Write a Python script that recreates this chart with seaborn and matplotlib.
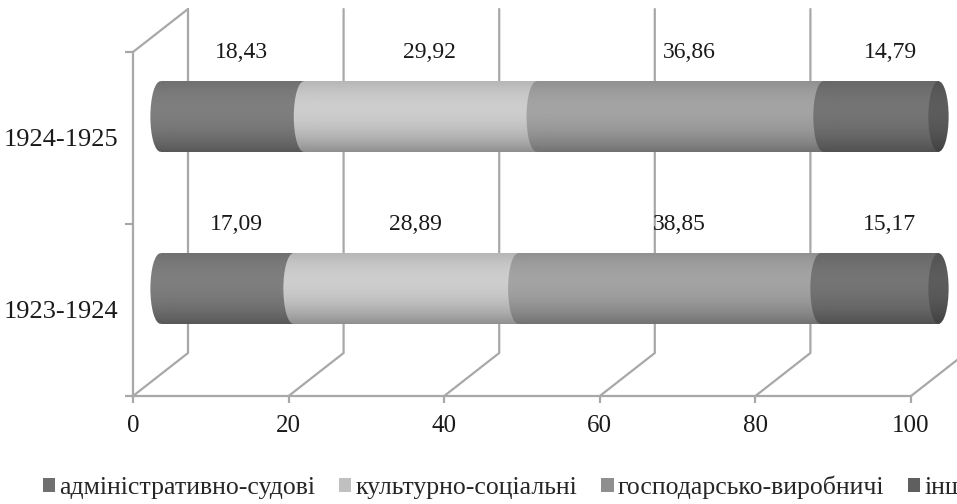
import numpy as np
import pandas as pd
import matplotlib
matplotlib.use("Agg")
import matplotlib.pyplot as plt
import matplotlib.transforms as mtransforms
from matplotlib.patches import Ellipse, Patch
from matplotlib.lines import Line2D
import seaborn as sns

# данні
years = ["1924-1925", "1923-1924"]
categories = ["адміністративно-судові", "культурно-соціальні",
              "господарсько-виробничі", "інші"]
adm = [18.43, 17.09]
cult = [29.92, 28.89]
gosp = [36.86, 38.85]
inshi = [14.79, 15.17]
x_ticks = [0, 20, 40, 60, 80, 100]

colors = ["#7e7e7e", "#cdcdcd", "#a3a3a3", "#747474"]
legend_colors = ["#707070", "#c0c0c0", "#8f8f8f", "#5f5f5f"]
cap_color = "#5c5c5c"
grid_color = "#a8a8a8"

sns.set_style("white")
plt.rcParams["font.family"] = ["Liberation Serif", "DejaVu Serif"]

fig = plt.figure(figsize=(9.57, 5.04), dpi=100)
ax = fig.add_axes([133 / 957, 108 / 504, 778 / 957, 344 / 504])
ax.patch.set_visible(False)

segs = np.array([adm, cult, gosp, inshi])
cum = segs.cumsum(axis=0)
starts = cum - segs
bar_h = 0.41

# зсув "глибини" для 3D-вигляду (пікселі при dpi=100)
mid_off = mtransforms.ScaledTranslation(0.275, 0.215, fig.dpi_scale_trans)
back_dx, back_dy = 55, 43

# накладені стовпчики (від повної суми до першої категорії)
for k in reversed(range(4)):
    df = pd.DataFrame({"year": years, "value": cum[k]})
    sns.barplot(data=df, x="value", y="year", order=years, orient="h",
                color=colors[k], saturation=1, width=bar_h,
                linewidth=0, ax=ax)

for p in ax.patches:
    p.set_transform(ax.transData + mid_off)
    p.set_clip_on(False)
    p.set_zorder(2)

# тінь циліндра
tt = np.linspace(0, 1, 64)
shade = np.zeros((64, 1, 4))
shade[:, 0, 3] = 0.30 * ((tt - 0.38) / 0.62) ** 2


def add_shade(x0, x1, yc, z, clip=None):
    im = ax.imshow(shade, extent=[x0, x1, yc + bar_h / 2, yc - bar_h / 2],
                   origin="upper", aspect="auto", interpolation="bilinear",
                   zorder=z)
    im.set_transform(ax.transData + mid_off)
    if clip is not None:
        im.set_clip_path(clip)
    im.set_clip_box(fig.bbox)


ell_w = 2.6
for i, yr in enumerate(years):
    add_shade(0, cum[3][i], i, 2.1)
    for k in range(4):
        e = Ellipse((starts[k][i], i), ell_w, bar_h, facecolor=colors[k],
                    edgecolor="none", zorder=3 + k * 0.01,
                    transform=ax.transData + mid_off, clip_on=False)
        ax.add_patch(e)
        add_shade(starts[k][i] - ell_w / 2, starts[k][i] + ell_w / 2, i,
                  3 + k * 0.01 + 0.005, clip=e)
    cap = Ellipse((cum[3][i], i), ell_w, bar_h, facecolor=cap_color,
                  edgecolor="none", zorder=3.5,
                  transform=ax.transData + mid_off, clip_on=False)
    ax.add_patch(cap)
    add_shade(cum[3][i] - ell_w / 2, cum[3][i] + ell_w / 2, i, 3.6, clip=cap)

ax.set_xlim(0, 100)
ax.set_ylim(1.5, -0.5)

# сітка в перспективі
xt = ax.get_xaxis_transform()
for t in x_ticks:
    fx, fy = xt.transform((t, 0))
    tx, ty = xt.transform((t, 1))
    ln = Line2D([fx, fx + back_dx, tx + back_dx], [fy, fy + back_dy, ty + back_dy],
                transform=mtransforms.IdentityTransform(), color=grid_color,
                lw=1.6, zorder=1, clip_on=False)
    ax.add_line(ln)
lx, ly = xt.transform((0, 1))
ax.add_line(Line2D([lx, lx + back_dx], [ly, ly + back_dy],
                   transform=mtransforms.IdentityTransform(), color=grid_color,
                   lw=1.6, zorder=1, clip_on=False))

for s in ["top", "right"]:
    ax.spines[s].set_visible(False)
for s in ["left", "bottom"]:
    ax.spines[s].set_color(grid_color)
    ax.spines[s].set_linewidth(1.6)

ax.set_xticks(x_ticks)
ax.set_xticklabels([str(t) for t in x_ticks])
ax.set_yticks([0, 1])
ax.set_yticklabels(years)
ax.set_yticks([-0.5, 0.5, 1.5], minor=True)
ax.tick_params(axis="x", bottom=True, length=5, width=1.6, color=grid_color,
               pad=9, labelsize=18, labelcolor="#1a1a1a")
ax.tick_params(axis="y", which="major", left=False, pad=7, labelsize=19,
               labelcolor="#1a1a1a")
ax.tick_params(axis="y", which="minor", left=True, length=6, width=1.6,
               color=grid_color)
ax.set_xlabel("")
ax.set_ylabel("")

# підписи значень
for i, yr in enumerate(years):
    for k in range(4):
        v = segs[k][i]
        ax.annotate(f"{v:.2f}".replace(".", ","),
                    xy=(starts[k][i] + v / 2, i), xycoords="data",
                    xytext=(37 * 0.72, 86 * 0.72), textcoords="offset points",
                    ha="center", va="center", fontsize=17, color="#1a1a1a",
                    annotation_clip=False)

handles = [Patch(facecolor=c, edgecolor="none") for c in legend_colors]
fig.legend(handles, categories, loc="center left",
           bbox_to_anchor=(43 / 957, 1 - 487 / 504), ncol=4, frameon=False,
           fontsize=18.5, handlelength=0.47, handleheight=0.47,
           handletextpad=0.15, columnspacing=0.95, borderaxespad=0,
           borderpad=0)

fig.savefig("out.png", dpi=100)
